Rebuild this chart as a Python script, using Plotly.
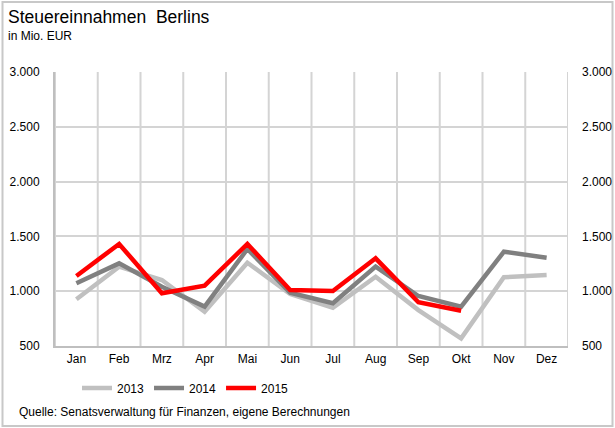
import plotly.graph_objects as go

# Monthly tax revenue of Berlin, in million EUR
months = ["Jan", "Feb", "Mrz", "Apr", "Mai", "Jun", "Jul", "Aug", "Sep", "Okt", "Nov", "Dez"]
rev_2013 = [926, 1224, 1102, 813, 1260, 974, 849, 1132, 828, 570, 1127, 1148]
rev_2014 = [1072, 1254, 1041, 859, 1385, 986, 890, 1224, 956, 859, 1360, 1306]
rev_2015 = [1139, 1431, 981, 1050, 1431, 1011, 1002, 1300, 899, 822]

y_ticks = [500, 1000, 1500, 2000, 2500, 3000]

FONT = "Liberation Sans, Arial, sans-serif"
GRID = "#d4d4d4"

# Plot area in pixels (page is 615 x 428)
L, R, T, B = 55, 568, 72, 346
W, H = 615, 428


def px_x(px):
    return (px - L) / (R - L)


def px_y(py):
    return (B - py) / (B - T)


month_pos = list(range(len(months)))
boundaries = [i - 0.5 for i in range(len(months) + 1)]
x_range = [-0.5, len(months) - 0.5]

fig = go.Figure()
series = [
    ("2013", rev_2013, "#c0c0c0"),
    ("2014", rev_2014, "#808080"),
    ("2015", rev_2015, "#ff0000"),
]
for name, vals, color in series:
    fig.add_trace(go.Scatter(
        x=month_pos[:len(vals)], y=vals, name=name, mode="lines",
        line=dict(color=color, width=4.5),
        hoverinfo="skip",
    ))

# transparent trace on the right-hand axis so that its labels are drawn
fig.add_trace(go.Scatter(
    x=month_pos, y=rev_2013, yaxis="y2", mode="lines",
    line=dict(color="rgba(0,0,0,0)", width=0), showlegend=False,
    hoverinfo="skip",
))

# separators between the months
for b in boundaries:
    fig.add_shape(type="line", xref="x", yref="paper", layer="below",
                  x0=b, x1=b, y0=0, y1=1, line=dict(color=GRID, width=2))

fig.update_layout(
    width=W, height=H,
    margin=dict(l=L, r=W - R, t=T, b=H - B),
    paper_bgcolor="white", plot_bgcolor="white",
    separators=",.",
    font=dict(family=FONT, size=12, color="#000000"),
    showlegend=True,
    legend=dict(
        orientation="h", x=px_x(77), y=px_y(388),
        xanchor="left", yanchor="middle",
        font=dict(family=FONT, size=12, color="#000000"),
        bgcolor="rgba(0,0,0,0)", itemwidth=30, tracegroupgap=0,
    ),
    xaxis=dict(
        range=x_range, tickvals=month_pos, ticktext=months,
        showgrid=False, zeroline=False, automargin=False,
        showline=True, linecolor="#bfbfbf", linewidth=2,
        ticks="", ticklabelstandoff=1, fixedrange=True,
        tickfont=dict(family=FONT, size=12),
    ),
    yaxis=dict(
        range=[500, 3000], tickvals=y_ticks, tickformat=",d",
        showgrid=True, gridcolor=GRID, gridwidth=2,
        showline=True, linecolor="#bfbfbf", linewidth=2,
        zeroline=False, ticks="", ticklabelstandoff=11, fixedrange=True,
        automargin=False, tickfont=dict(family=FONT, size=12),
    ),
    yaxis2=dict(
        overlaying="y", side="right",
        range=[500, 3000], tickvals=y_ticks, tickformat=",d",
        showgrid=False, showline=False, zeroline=False,
        ticks="", ticklabelstandoff=13, fixedrange=True,
        automargin=False, tickfont=dict(family=FONT, size=12),
    ),
    annotations=[
        dict(text="Steuereinnahmen\u00a0 Berlins", xref="paper", yref="paper",
             x=px_x(6), y=px_y(17), xanchor="left", yanchor="middle",
             showarrow=False, font=dict(family=FONT, size=17.5, color="#000000")),
        dict(text="in Mio. EUR", xref="paper", yref="paper",
             x=px_x(6), y=px_y(36), xanchor="left", yanchor="middle",
             showarrow=False, font=dict(family=FONT, size=12, color="#000000")),
        dict(text="Quelle: Senatsverwaltung für Finanzen, eigene Berechnungen",
             xref="paper", yref="paper",
             x=px_x(17), y=px_y(412), xanchor="left", yanchor="middle",
             showarrow=False, font=dict(family=FONT, size=12, color="#000000")),
    ],
)
fig.add_shape(type="rect", xref="paper", yref="paper", layer="below",
              x0=px_x(2.5), x1=px_x(612.5), y0=px_y(2), y1=px_y(426),
              line=dict(color="#c8c8c8", width=2), fillcolor="rgba(0,0,0,0)")

fig.write_html("out.html")
